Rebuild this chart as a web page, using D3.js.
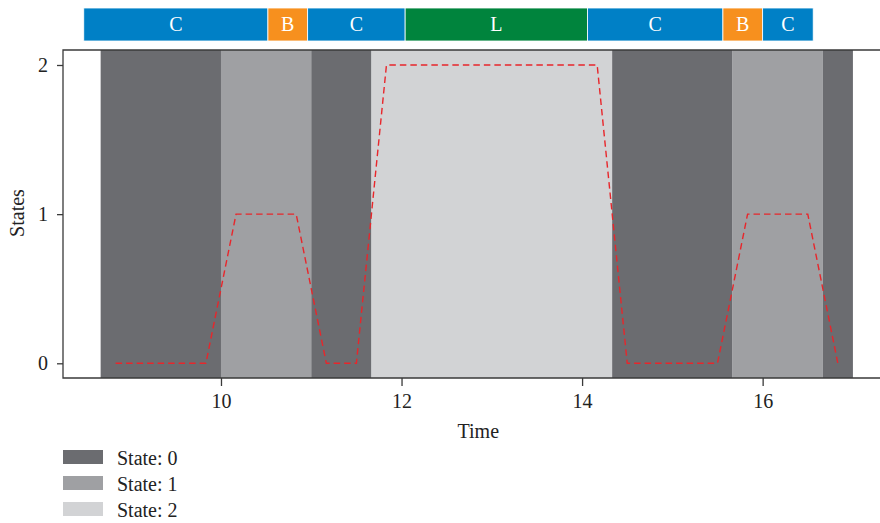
<!DOCTYPE html>
<html>
<head>
<meta charset="utf-8">
<script src="https://cdn.jsdelivr.net/npm/d3@7"></script>
<style>
  body { margin: 0; background: #fff; }
  text { font-family: "Liberation Serif", "DejaVu Serif", serif; }
</style>
</head>
<body>
<svg id="chart" width="880" height="523"></svg>
<script>
// sampled time points and the state at each
const times = [8.833, 9.167, 9.5, 9.833, 10.167, 10.5, 10.833, 11.167, 11.5,
  11.833, 12.167, 12.5, 12.833, 13.167, 13.5, 13.833, 14.167,
  14.5, 14.833, 15.167, 15.5, 15.833, 16.167, 16.5, 16.833];
const states = [0, 0, 0, 0, 1, 1, 1, 0, 0,
  2, 2, 2, 2, 2, 2, 2, 2,
  0, 0, 0, 0, 1, 1, 1, 0];

// background state bands
const bandStart = [8.667, 10, 11, 11.667, 14.333, 15.667, 16.667];
const bandEnd = [10, 11, 11.667, 14.333, 15.667, 16.667, 17];
const bandState = [0, 1, 0, 2, 0, 1, 0];

// top segment bar
const segLabels = ["C", "B", "C", "L", "C", "B", "C"];
const segEdges = [8.48, 10.52, 10.96, 12.04, 14.06, 15.56, 16.0, 16.56];

const xTicks = [10, 12, 14, 16];
const yTicks = [0, 1, 2];
const legendLabels = ["State: 0", "State: 1", "State: 2"];

const stateColor = ["#6b6c70", "#9fa0a3", "#d2d3d5"];
const segColor = { C: "#0080c6", B: "#f7901e", L: "#00843d" };
const fs = 20;

const svg = d3.select("#chart");
const plotTop = 50, plotBottom = 378, plotLeft = 63, plotRight = 880;

const x = d3.scaleLinear().domain([8.25, 17.3]).range([plotLeft, plotRight]);
const y = d3.scaleLinear().domain([0, 2]).range([363.3, 65]);

// bands
svg.append("g").selectAll("rect")
  .data(bandStart.map((s, i) => ({ s, e: bandEnd[i], st: bandState[i] })))
  .join("rect")
  .attr("x", d => x(d.s))
  .attr("width", d => x(d.e) - x(d.s))
  .attr("y", plotTop)
  .attr("height", plotBottom - plotTop)
  .attr("fill", d => stateColor[d.st]);

// red dashed state line
const line = d3.line().x((d, i) => x(times[i])).y(d => y(d));
svg.append("path")
  .datum(states)
  .attr("d", line)
  .attr("fill", "none")
  .attr("stroke", "#e8262b")
  .attr("stroke-width", 1.4)
  .attr("stroke-dasharray", "6.5,4");

// frame
svg.append("path")
  .attr("d", `M${plotRight},${plotTop}H${plotLeft}V${plotBottom}H${plotRight}`)
  .attr("fill", "none")
  .attr("stroke", "#3a3a3a")
  .attr("stroke-width", 1.3);

// x axis
const xAxis = svg.append("g")
  .attr("transform", `translate(0,${plotBottom})`)
  .call(d3.axisBottom(x).tickValues(xTicks).tickSize(8).tickPadding(8).tickSizeOuter(0));
xAxis.select(".domain").remove();
xAxis.selectAll("line").attr("stroke", "#3a3a3a").attr("stroke-width", 1.3);
xAxis.selectAll("text").attr("font-size", fs).attr("fill", "#222")
  .style("font-family", "Liberation Serif, serif");

// y axis
const yAxis = svg.append("g")
  .attr("transform", `translate(${plotLeft},0)`)
  .call(d3.axisLeft(y).tickValues(yTicks).tickFormat(d3.format("d")).tickSize(6).tickPadding(9));
yAxis.select(".domain").remove();
yAxis.selectAll("line").attr("stroke", "#3a3a3a").attr("stroke-width", 1.3);
yAxis.selectAll("text").attr("font-size", fs).attr("fill", "#222")
  .style("font-family", "Liberation Serif, serif");

// axis titles
svg.append("text")
  .attr("x", x(12.85)).attr("y", 438)
  .attr("text-anchor", "middle")
  .attr("font-size", fs).attr("fill", "#222")
  .text("Time");
svg.append("text")
  .attr("transform", "translate(24,213) rotate(-90)")
  .attr("text-anchor", "middle")
  .attr("font-size", fs).attr("fill", "#222")
  .text("States");

// top segment bar
const segs = segLabels.map((l, i) => ({ l, s: segEdges[i], e: segEdges[i + 1] }));
const seg = svg.append("g").selectAll("g").data(segs).join("g");
seg.append("rect")
  .attr("x", d => x(d.s))
  .attr("width", d => x(d.e) - x(d.s))
  .attr("y", 8)
  .attr("height", 33)
  .attr("fill", d => segColor[d.l])
  .attr("stroke", "#fff")
  .attr("stroke-width", 0.8);
seg.append("text")
  .attr("x", d => (x(d.s) + x(d.e)) / 2)
  .attr("y", 31)
  .attr("text-anchor", "middle")
  .attr("font-size", fs)
  .attr("fill", "#fff")
  .text(d => d.l);

// legend
const lg = svg.append("g").selectAll("g").data(legendLabels).join("g")
  .attr("transform", (d, i) => `translate(63,${450 + i * 26})`);
lg.append("rect").attr("width", 40).attr("height", 14)
  .attr("fill", (d, i) => stateColor[i]);
lg.append("text").attr("x", 54).attr("y", 14.5)
  .attr("font-size", fs).attr("fill", "#222")
  .text(d => d);
</script>
</body>
</html>
